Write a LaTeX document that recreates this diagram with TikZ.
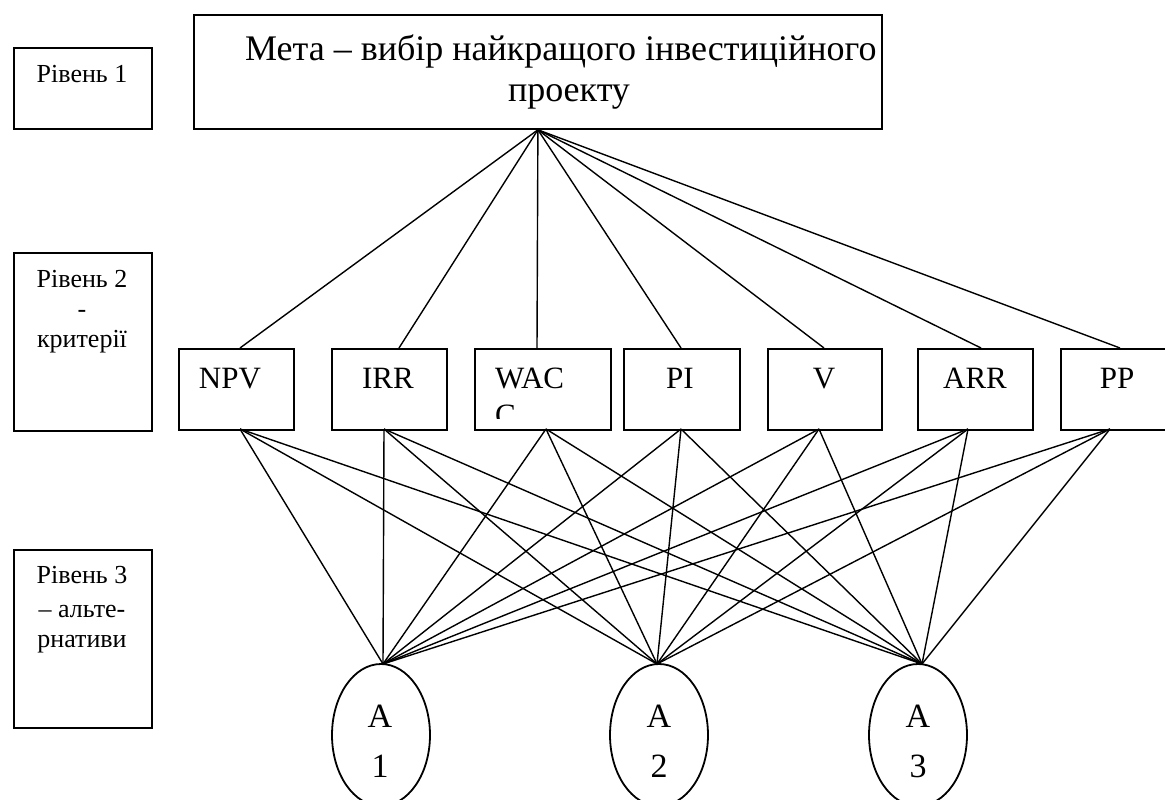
\documentclass[tikz,border=0pt]{standalone}
\usepackage{fontspec}
\setmainfont{Liberation Serif}
\usetikzlibrary{shapes.geometric}
\begin{document}
\begin{tikzpicture}[x=1pt,y=-1pt,
 box/.style={draw, line width=1.8pt, inner sep=0pt, anchor=north west},
 conn/.style={line width=1.4pt},
 lvltxt/.style={font=\fontsize{26}{30}\selectfont, anchor=base, inner sep=0pt},
 maintxt/.style={font=\fontsize{36}{43}\selectfont, inner sep=0pt},
 crit/.style={font=\fontsize{31}{37}\selectfont, anchor=base, inner sep=0pt},
 alt/.style={draw, ellipse, line width=1.8pt, minimum width=98pt, minimum height=142pt, inner sep=0pt},
 alttxt/.style={font=\fontsize{34}{40}\selectfont, anchor=base, inner sep=0pt}]
\clip (0,0) rectangle (1165,800);
\fill[white] (0,0) rectangle (1165,800);

% level boxes
\node[box, minimum width=138pt, minimum height=81pt] (l1) at (13,47) {};
\node[lvltxt] (l1a) at (82,82) {Рівень 1};
\node[box, minimum width=138pt, minimum height=178pt] (l2) at (13,252) {};
\node[lvltxt] (l2a) at (82,287) {Рівень 2};
\node[lvltxt] (l2b) at (82,317) {-};
\node[lvltxt] (l2c) at (82,347) {критерії};
\node[box, minimum width=138pt, minimum height=178pt] (l3) at (13,549) {};
\node[lvltxt] (l3a) at (82,583) {Рівень 3};
\node[lvltxt] (l3b) at (82,617) {– альте-};
\node[lvltxt] (l3c) at (82,647) {рнативи};

% goal
\node[box, minimum width=688pt, minimum height=114pt] (goal) at (193,14) {};
\node[maintxt, anchor=base west] (g1) at (245,61) {Мета – вибір найкращого інвестиційного};
\node[maintxt, anchor=base] (g2) at (569,102) {проекту};

% criteria
\node[box, minimum width=115pt, minimum height=81pt] (npv) at (178,348) {};
\node[box, minimum width=115pt, minimum height=81pt] (irr) at (331,348) {};
\node[box, minimum width=136pt, minimum height=81pt] (wac) at (474,348) {};
\node[box, minimum width=116pt, minimum height=81pt] (pi) at (623,348) {};
\node[box, minimum width=114pt, minimum height=81pt] (v) at (767,348) {};
\node[box, minimum width=115pt, minimum height=81pt] (arr) at (917,348) {};
\node[box, minimum width=115pt, minimum height=81pt] (pp) at (1060,348) {};
\node[crit] (npvt) at (230,388) {NPV};
\node[crit] (irrt) at (388,388) {IRR};
\node[crit, anchor=base west] (wact) at (495,388) {WAC};
\begin{scope}
\clip (474,348) rectangle (610,418);
\node[crit, anchor=base west] (wact2) at (495,425) {C};
\end{scope}
\node[crit] (pit) at (680,388) {PI};
\node[crit] (vt) at (824,388) {V};
\node[crit] (arrt) at (975,388) {ARR};
\node[crit] (ppt) at (1117,388) {PP};

% alternatives
\node[alt] (a1) at (381,735) {};
\node[alt] (a2) at (659,735) {};
\node[alt] (a3) at (918,735) {};
\node[alttxt] (a1a) at (380,727) {A};
\node[alttxt] (a1b) at (380,777) {1};
\node[alttxt] (a2a) at (659,727) {A};
\node[alttxt] (a2b) at (659,777) {2};
\node[alttxt] (a3a) at (918,727) {A};
\node[alttxt] (a3b) at (918,777) {3};

% attachment points
\coordinate (npvT) at (240,348); \coordinate (npvB) at (240,429);
\coordinate (irrT) at (399,348); \coordinate (irrB) at (384,429);
\coordinate (wacT) at (537,348); \coordinate (wacB) at (546,429);
\coordinate (piT) at (681,348);  \coordinate (piB) at (681,429);
\coordinate (vT) at (824,348);   \coordinate (vB) at (819,429);
\coordinate (arrT) at (981,348); \coordinate (arrB) at (968,429);
\coordinate (ppT) at (1120,348); \coordinate (ppB) at (1110,429);
\coordinate (a1T) at (383,664);
\coordinate (a2T) at (657,664);
\coordinate (a3T) at (922,664);

\foreach \c in {npvT,irrT,wacT,piT,vT,arrT,ppT}
  \draw[conn] (goal.south) -- (\c);
\foreach \c in {npvB,irrB,wacB,piB,vB,arrB,ppB}
  \foreach \a in {a1T,a2T,a3T}
    \draw[conn] (\c) -- (\a);
\end{tikzpicture}
\end{document}
